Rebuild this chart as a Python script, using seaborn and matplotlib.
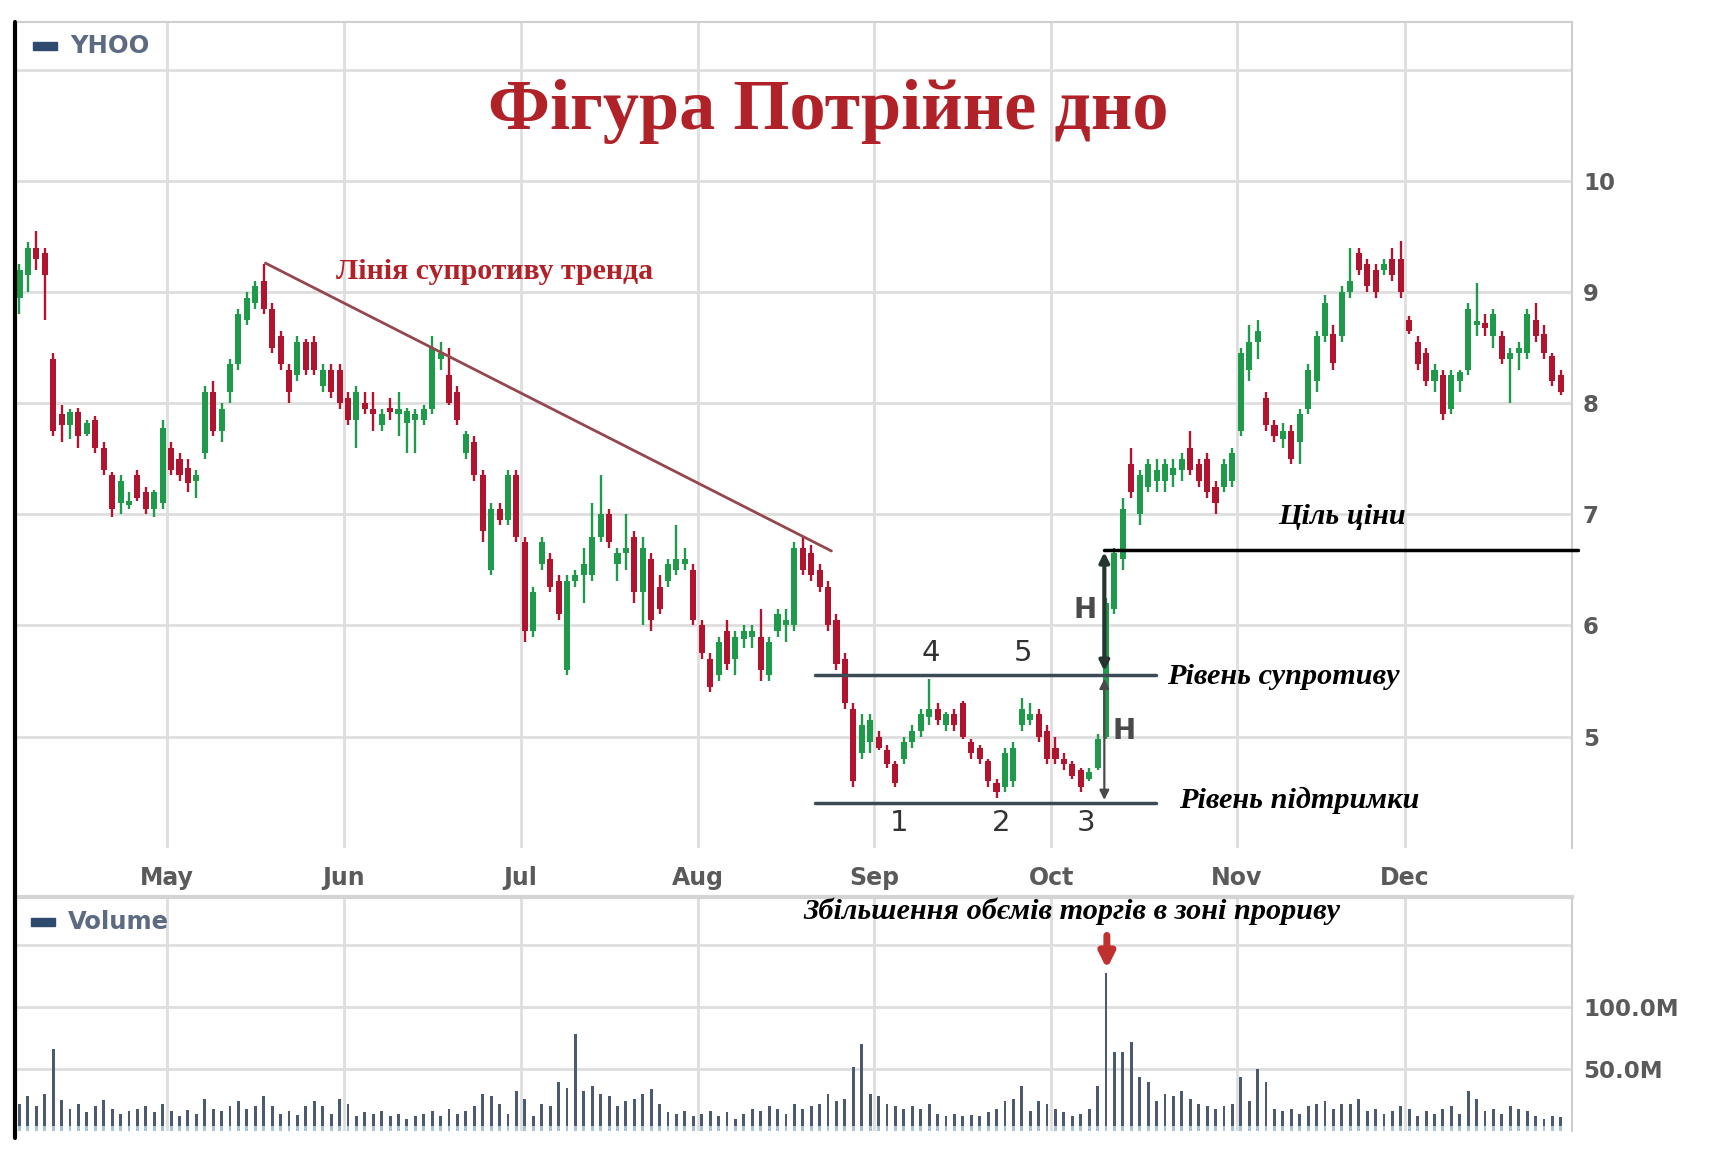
import matplotlib
matplotlib.use("Agg")
import matplotlib.pyplot as plt
from matplotlib.lines import Line2D
from matplotlib.patches import Rectangle
import numpy as np
import pandas as pd
import seaborn as sns

# ---------------- data ----------------
opens = [8.95, 9.15, 9.4, 9.35, 8.4, 7.9, 7.8, 7.92, 7.72, 7.85,
         7.6, 7.35, 7.1, 7.08, 7.35, 7.2, 7.05, 7.1, 7.6, 7.5,
         7.42, 7.3, 7.55, 8.1, 7.75, 8.1, 8.35, 8.75, 8.9, 9.1,
         8.85, 8.6, 8.3, 8.25, 8.55, 8.55, 8.15, 8.3, 8.3, 8.05,
         7.85, 8.0, 7.95, 7.8, 7.95, 7.9, 7.82, 7.85, 7.85, 7.95,
         8.4, 8.25, 8.1, 7.55, 7.65, 7.35, 6.5, 7.05, 6.95, 7.35,
         6.75, 5.95, 6.55, 6.6, 6.4, 5.6, 6.4, 6.45, 6.45, 6.8,
         7.0, 6.55, 6.65, 6.8, 6.3, 6.6, 6.35, 6.4, 6.5, 6.55,
         6.5, 6.0, 5.7, 5.55, 5.95, 5.7, 5.88, 5.9, 5.9, 5.55,
         5.95, 6.0, 6.0, 6.7, 6.65, 6.5, 6.35, 6.05, 5.7, 5.25,
         4.85, 4.95, 5.0, 4.88, 4.75, 4.8, 4.95, 5.05, 5.18, 5.25,
         5.1, 5.2, 5.3, 4.95, 4.9, 4.78, 4.58, 4.55, 4.6, 5.1,
         5.15, 5.2, 5.05, 4.9, 4.8, 4.75, 4.7, 4.62, 4.72, 5.0,
         6.15, 6.6, 7.45, 7.0, 7.25, 7.3, 7.3, 7.35, 7.4, 7.6,
         7.45, 7.5, 7.25, 7.25, 7.3, 7.75, 8.3, 8.55, 8.05, 7.8,
         7.68, 7.75, 7.65, 7.95, 8.2, 8.6, 8.62, 8.6, 9.0, 9.35,
         9.25, 9.2, 9.2, 9.3, 9.3, 8.75, 8.55, 8.45, 8.2, 8.25,
         7.95, 8.2, 8.3, 8.7, 8.72, 8.6, 8.6, 8.4, 8.45, 8.45,
         8.75, 8.62, 8.42, 8.25]
highs = [9.25, 9.45, 9.55, 9.4, 8.45, 7.98, 7.95, 7.96, 7.85, 7.88,
         7.65, 7.38, 7.35, 7.2, 7.4, 7.25, 7.22, 7.85, 7.65, 7.55,
         7.5, 7.4, 8.15, 8.2, 8.0, 8.4, 8.85, 9.0, 9.1, 9.25,
         8.9, 8.65, 8.35, 8.6, 8.58, 8.6, 8.35, 8.35, 8.35, 8.1,
         8.15, 8.1, 8.1, 7.95, 8.05, 8.1, 7.96, 7.95, 7.98, 8.6,
         8.55, 8.5, 8.15, 7.75, 7.7, 7.4, 7.1, 7.1, 7.4, 7.4,
         6.8, 6.35, 6.8, 6.65, 6.45, 6.45, 6.5, 6.7, 7.1, 7.35,
         7.05, 6.7, 7.0, 6.85, 6.8, 6.65, 6.45, 6.6, 6.9, 6.7,
         6.55, 6.05, 5.75, 5.9, 6.05, 5.95, 6.0, 6.0, 6.15, 5.9,
         6.15, 6.15, 6.75, 6.8, 6.72, 6.55, 6.4, 6.1, 5.75, 5.3,
         5.2, 5.2, 5.05, 4.92, 4.78, 5.0, 5.1, 5.25, 5.52, 5.3,
         5.22, 5.25, 5.32, 4.98, 4.92, 4.8, 4.62, 4.9, 4.95, 5.35,
         5.3, 5.25, 5.1, 5.0, 4.85, 4.78, 4.72, 4.72, 5.02, 6.25,
         6.7, 7.15, 7.6, 7.4, 7.5, 7.5, 7.5, 7.5, 7.55, 7.75,
         7.5, 7.55, 7.3, 7.5, 7.6, 8.5, 8.7, 8.75, 8.1, 7.85,
         7.82, 7.8, 7.95, 8.35, 8.65, 8.97, 8.7, 9.05, 9.4, 9.4,
         9.3, 9.25, 9.3, 9.4, 9.46, 8.78, 8.6, 8.5, 8.35, 8.3,
         8.3, 8.3, 8.9, 9.08, 8.8, 8.85, 8.65, 8.5, 8.55, 8.85,
         8.9, 8.7, 8.45, 8.3]
lows = [8.8, 9.0, 9.2, 8.75, 7.7, 7.65, 7.68, 7.6, 7.7, 7.55,
        7.35, 6.98, 7.0, 7.05, 7.12, 7.0, 6.98, 7.05, 7.35, 7.3,
        7.2, 7.15, 7.5, 7.7, 7.65, 8.0, 8.3, 8.7, 8.85, 8.8,
        8.45, 8.3, 8.0, 8.2, 8.25, 8.25, 8.1, 8.05, 7.95, 7.8,
        7.6, 7.9, 7.75, 7.75, 7.85, 7.7, 7.55, 7.55, 7.8, 7.9,
        8.3, 7.98, 7.8, 7.5, 7.3, 6.75, 6.45, 6.9, 6.9, 6.75,
        5.85, 5.9, 6.5, 6.3, 6.05, 5.55, 6.35, 6.2, 6.4, 6.75,
        6.7, 6.4, 6.5, 6.2, 6.0, 5.95, 6.1, 6.35, 6.45, 6.5,
        6.0, 5.7, 5.4, 5.5, 5.6, 5.55, 5.8, 5.8, 5.5, 5.5,
        5.9, 5.85, 5.95, 6.45, 6.4, 6.3, 5.95, 5.6, 5.25, 4.55,
        4.8, 4.85, 4.88, 4.72, 4.55, 4.75, 4.9, 5.0, 5.1, 5.1,
        5.05, 5.05, 4.98, 4.8, 4.75, 4.55, 4.45, 4.5, 4.55, 5.05,
        5.1, 4.95, 4.75, 4.75, 4.7, 4.62, 4.5, 4.6, 4.7, 4.98,
        6.1, 6.5, 7.15, 6.9, 7.2, 7.2, 7.2, 7.25, 7.3, 7.35,
        7.25, 7.15, 7.0, 7.2, 7.25, 7.7, 8.2, 8.4, 7.75, 7.65,
        7.6, 7.45, 7.45, 7.9, 8.1, 8.55, 8.3, 8.55, 8.95, 9.15,
        9.0, 8.95, 9.15, 9.1, 8.95, 8.62, 8.3, 8.15, 8.1, 7.85,
        7.9, 8.1, 8.25, 8.6, 8.6, 8.5, 8.35, 8.0, 8.3, 8.4,
        8.55, 8.4, 8.15, 8.07]
closes = [9.2, 9.4, 9.3, 9.15, 7.75, 7.8, 7.92, 7.7, 7.82, 7.6,
          7.4, 7.05, 7.3, 7.12, 7.15, 7.05, 7.2, 7.78, 7.4, 7.35,
          7.28, 7.35, 8.1, 7.75, 7.95, 8.35, 8.8, 8.95, 9.05, 8.85,
          8.5, 8.35, 8.1, 8.55, 8.3, 8.3, 8.3, 8.1, 8.0, 7.85,
          8.1, 7.95, 7.9, 7.9, 7.92, 7.95, 7.93, 7.9, 7.95, 8.5,
          8.45, 8.0, 7.85, 7.72, 7.35, 6.85, 7.05, 6.95, 7.35, 6.8,
          5.95, 6.3, 6.75, 6.35, 6.1, 6.4, 6.45, 6.55, 6.8, 7.0,
          6.75, 6.65, 6.7, 6.3, 6.7, 6.05, 6.15, 6.55, 6.6, 6.6,
          6.05, 5.75, 5.45, 5.85, 5.65, 5.9, 5.95, 5.95, 5.6, 5.85,
          6.1, 6.05, 6.7, 6.5, 6.45, 6.35, 6.0, 5.65, 5.3, 4.6,
          5.1, 5.15, 4.9, 4.75, 4.58, 4.95, 5.05, 5.2, 5.25, 5.15,
          5.2, 5.1, 5.0, 4.85, 4.8, 4.6, 4.5, 4.85, 4.9, 5.25,
          5.2, 5.0, 4.8, 4.8, 4.75, 4.65, 4.55, 4.68, 4.98, 6.2,
          6.65, 7.05, 7.2, 7.35, 7.45, 7.4, 7.45, 7.42, 7.5, 7.4,
          7.3, 7.2, 7.1, 7.45, 7.55, 8.45, 8.55, 8.65, 7.8, 7.7,
          7.75, 7.5, 7.9, 8.3, 8.6, 8.9, 8.36, 9.0, 9.1, 9.2,
          9.05, 9.0, 9.25, 9.15, 9.0, 8.65, 8.35, 8.2, 8.3, 7.9,
          8.25, 8.28, 8.85, 8.72, 8.68, 8.8, 8.4, 8.45, 8.5, 8.8,
          8.6, 8.45, 8.2, 8.1]
volume_m = [22, 28, 20, 30, 66, 25, 18, 22, 15, 20,
            25, 18, 14, 16, 18, 20, 15, 22, 16, 12,
            17, 14, 26, 18, 16, 20, 24, 18, 20, 28,
            20, 14, 16, 13, 20, 24, 20, 14, 26, 22,
            12, 15, 14, 16, 12, 14, 10, 12, 14, 16,
            12, 18, 14, 16, 20, 30, 28, 22, 14, 32,
            26, 12, 22, 20, 40, 35, 78, 32, 36, 30,
            28, 20, 24, 26, 30, 34, 22, 15, 14, 16,
            12, 14, 16, 12, 15, 10, 14, 18, 16, 20,
            18, 14, 22, 18, 20, 22, 30, 24, 26, 52,
            70, 30, 28, 22, 20, 18, 20, 18, 22, 14,
            12, 14, 12, 13, 12, 15, 18, 24, 26, 36,
            16, 24, 22, 18, 15, 12, 14, 18, 36, 128,
            64, 64, 72, 44, 40, 24, 30, 28, 32, 26,
            22, 20, 18, 20, 22, 44, 24, 50, 40, 18,
            16, 18, 14, 20, 22, 24, 18, 22, 22, 26,
            16, 18, 14, 16, 20, 18, 12, 16, 14, 18,
            20, 14, 32, 26, 16, 18, 14, 20, 18, 16,
            12, 10, 12, 11]
months = ["May", "Jun", "Jul", "Aug", "Sep", "Oct", "Nov", "Dec"]
month_first_idx = [18, 39, 60, 81, 102, 123, 145, 165]
price_ticks = [5, 6, 7, 8, 9, 10]
volume_ticks = [50, 100, 150]
volume_tick_labels = ["50.0M", "100.0M", ""]

trend_pts_x = [29.2, 96.4]
trend_pts_y = [9.26, 6.67]
support_level = 4.40
resistance_level = 5.55
target_level = 6.68

# ---------------- style ----------------
sns.set_style("white")
plt.rcParams['font.family'] = ['DejaVu Sans']

GREEN = "#1f9a4a"
RED = "#b0142f"
GRID = "#dedede"
TICKC = "#5a5a5a"
DARKRED = "#b02228"

fig = plt.figure(figsize=(17.15, 11.52), dpi=100)
ax = fig.add_axes([0.0089, 0.2641, 0.9076, 0.7169])
axv = fig.add_axes([0.0089, 0.0182, 0.9076, 0.2031])

n = len(closes)
idx = np.arange(n)
df = pd.DataFrame({"i": idx, "open": opens, "high": highs, "low": lows,
                   "close": closes, "vol": volume_m})
up = df["close"] >= df["open"]
cols = np.where(up, GREEN, RED)

# grid
for m in month_first_idx:
    ax.axvline(m - 0.5, color=GRID, lw=2, zorder=0)
    axv.axvline(m - 0.5, color=GRID, lw=2, zorder=0)
for p in range(5, 12):
    ax.axhline(p, color=GRID, lw=2, zorder=0)
for v in volume_ticks:
    axv.axhline(v, color=GRID, lw=2, zorder=0)

# candles
ax.vlines(df["i"], df["low"], df["high"], colors=cols, lw=1.7, zorder=2)
body_bottom = np.minimum(df["open"], df["close"])
body_h = np.maximum(np.abs(df["close"] - df["open"]), 0.035)
ax.bar(df["i"], body_h, bottom=body_bottom, width=0.72, color=cols,
       linewidth=0, zorder=3)

# volume
sns.barplot(data=df, x="i", y="vol", native_scale=True, width=0.34,
            color="#4c5a70", linewidth=0, errorbar=None, ax=axv, zorder=2,
            saturation=1)
axv.bar(df["i"], np.minimum(df["vol"], 4.0), width=0.34, color="#a8c2dc",
        linewidth=0, zorder=3)

# axes formatting
for a in (ax, axv):
    a.set_xlim(-0.5, 184.3)
    for s in ("top", "right", "bottom"):
        a.spines[s].set_color("#cfcfcf")
        a.spines[s].set_linewidth(1.5)
    a.spines["left"].set_visible(False)
    a.yaxis.tick_right()
    a.tick_params(axis="y", length=0, pad=8, labelsize=16.5, labelcolor=TICKC)
    a.set_xlabel("")
    a.set_ylabel("")

ax.set_ylim(4.0, 11.43)
ax.set_yticks(price_ticks)
ax.set_yticklabels([str(t) for t in price_ticks], fontweight="bold")
ax.set_xticks([m - 0.5 for m in month_first_idx])
ax.set_xticklabels(months, fontweight="bold")
ax.tick_params(axis="x", length=0, pad=13, labelsize=17, labelcolor=TICKC)
ax.spines["bottom"].set_visible(False)

axv.set_ylim(0, 189)
axv.set_yticks(volume_ticks)
axv.set_yticklabels(volume_tick_labels, fontweight="bold")
axv.set_xticks([])
axv.spines["top"].set_linewidth(3)
axv.spines["top"].set_color("#d4d4d4")
axv.spines["bottom"].set_visible(False)

# left black border
fig.add_artist(Line2D([0.0085, 0.0085], [0.981, 0.012], color="black",
                      lw=3, transform=fig.transFigure))

# legends
fig.add_artist(Rectangle((33 / 1715, 1 - 50 / 1152), 24 / 1715, 8 / 1152,
                         color="#2e4a6e", transform=fig.transFigure))
fig.text(70 / 1715, 1 - 46 / 1152, "YHOO", color="#5c6b82", fontsize=17.5,
         fontweight="bold", va="center", ha="left")
fig.add_artist(Rectangle((31 / 1715, 1 - 926 / 1152), 24 / 1715, 8 / 1152,
                         color="#2e4a6e", transform=fig.transFigure))
fig.text(68 / 1715, 1 - 922 / 1152, "Volume", color="#5c6b82", fontsize=17.5,
         fontweight="bold", va="center", ha="left")

# title
fig.text(0.483, 0.903, "Фігура Потрійне дно", color=DARKRED,
         family=["Liberation Serif", "DejaVu Serif"], fontweight="bold",
         fontsize=52, ha="center", va="center")

# trend line
ax.plot(trend_pts_x, trend_pts_y, color="#94474d", lw=2, zorder=4)
ax.text(37.6, 9.18, "Лінія супротиву тренда", color=DARKRED,
        family=["Liberation Serif"], fontweight="bold", fontsize=21.5,
        ha="left", va="center")

# support / resistance / target
ax.plot([94.4, 134.9], [support_level, support_level], color="#3b4b55",
        lw=2.5, zorder=4)
ax.plot([94.4, 134.9], [resistance_level, resistance_level],
        color="#3b4b55", lw=2.5, zorder=4)
ax.plot([128.8, 185.0], [target_level, target_level], color="black",
        lw=2.5, zorder=4, clip_on=False)

# H arrows
ax.annotate("", xy=(128.8, target_level - 0.02), xytext=(128.8, resistance_level + 0.04),
            arrowprops=dict(arrowstyle="<|-|>", color="#263530", lw=3,
                            mutation_scale=14, shrinkA=0, shrinkB=0), zorder=5)
ax.annotate("", xy=(128.8, resistance_level - 0.03), xytext=(128.8, support_level + 0.03),
            arrowprops=dict(arrowstyle="<|-|>", color="#4a4a4a", lw=1.6,
                            mutation_scale=14, shrinkA=0, shrinkB=0), zorder=5)
ax.text(126.5, 6.14, "H", color="#4a4a4a", fontsize=20, fontweight="bold",
        ha="center", va="center")
ax.text(131.1, 5.05, "H", color="#4a4a4a", fontsize=20, fontweight="bold",
        ha="center", va="center")

# point numbers
for lbl, xx, yy in [("4", 108.2, 5.75), ("5", 119.2, 5.75), ("1", 104.4, 4.22),
                    ("2", 116.5, 4.22), ("3", 126.6, 4.22)]:
    ax.text(xx, yy, lbl, color="#333333", fontsize=21, ha="center", va="center")

serif_bi = dict(family=["Liberation Serif"], fontweight="bold",
                fontstyle="italic", color="black", fontsize=21.8)
ax.text(157.0, 6.98, "Ціль ціни", ha="center", va="center", **serif_bi)
ax.text(136.3, 5.54, "Рівень супротиву", ha="left", va="center", **serif_bi)
ax.text(137.7, 4.43, "Рівень підтримки", ha="left", va="center", **serif_bi)
fig.text(0.625, 1 - 911 / 1152, "Збільшення обємів торгів в зоні прориву",
         ha="center", va="center", **serif_bi)

# red arrow at breakout volume
axv.annotate("", xy=(129.1, 131), xytext=(129.1, 158),
             arrowprops=dict(arrowstyle="-|>", color="#c0302f", lw=5,
                             mutation_scale=22, shrinkA=0, shrinkB=0),
             annotation_clip=False)

fig.savefig("out.png", dpi=100, facecolor="white")
